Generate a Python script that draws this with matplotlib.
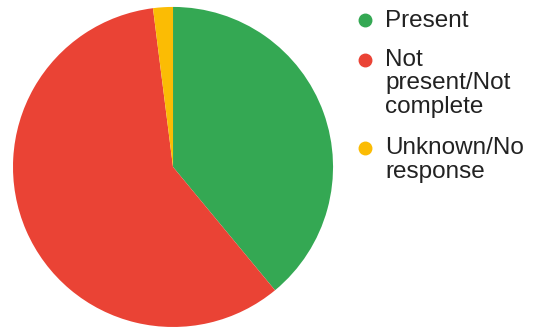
import matplotlib
matplotlib.use('Agg')
import matplotlib.pyplot as plt
from matplotlib.lines import Line2D

plt.rcParams['font.family'] = ['Liberation Sans', 'DejaVu Sans']

# data (share of responses, %)
labels = ['Present', 'Not\npresent/Not\ncomplete', 'Unknown/No\nresponse']
shares = [39, 59, 2]
colors = ['#34a853', '#ea4335', '#fbbc04']

fig = plt.figure(figsize=(5.37, 3.31), dpi=100)
ax = fig.add_axes([0.0242, 0.0121, 0.596, 0.967])

ax.pie(shares, colors=colors, startangle=90, counterclock=False,
       wedgeprops=dict(linewidth=0))
ax.set_xlim(-1, 1)
ax.set_ylim(-1, 1)
ax.set_aspect('equal')
ax.axis('off')

# legend drawn by hand so the dot sits on the first text line
H = 331.0
line_px = 23.0
first_base = [26.7, 67.0, 155.0]   # pixel rows of each entry's first baseline
for lab, col, yb in zip(labels, colors, first_base):
    n = lab.count('\n')
    fig.add_artist(Line2D([0.680], [1 - (yb - 7) / H], transform=fig.transFigure,
                          marker='o', markersize=9, color=col, linestyle='none'))
    # multi-line text is anchored on the baseline of its last line
    fig.text(0.717, 1 - (yb + n * line_px) / H, lab, fontsize=17.5,
             color='#222222', va='baseline', ha='left', linespacing=1.1,
             transform=fig.transFigure)

fig.savefig('out.png', dpi=100, facecolor='white')
